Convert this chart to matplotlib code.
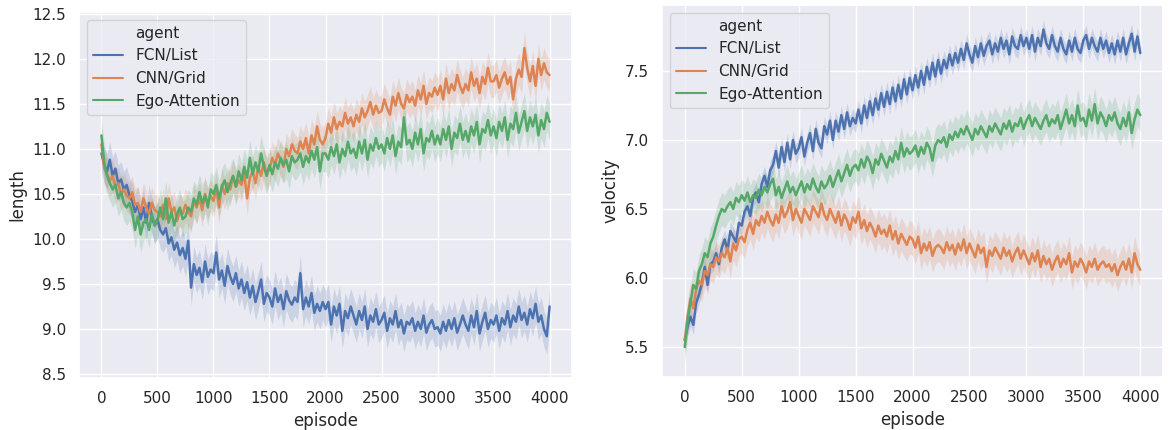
import numpy as np
import matplotlib
matplotlib.use("Agg")
import matplotlib.pyplot as plt
import seaborn as sns
from matplotlib.lines import Line2D

sns.set_theme(style="darkgrid")
plt.rcParams['font.family'] = ['DejaVu Sans']

agents = ["FCN/List", "CNN/Grid", "Ego-Attention"]
episode_step = 25

length_fcn = [
    10.95, 10.82, 10.75, 10.88, 10.70, 10.78, 10.62, 10.66, 10.55, 10.60,
    10.48, 10.42, 10.30, 10.38, 10.22, 10.35, 10.18, 10.40, 10.25, 10.15,
    10.22, 10.10, 10.05, 10.12, 9.95, 10.02, 9.88, 9.96, 9.82, 9.90,
    9.78, 9.98, 9.46, 9.72, 9.60, 9.68, 9.52, 9.75, 9.58, 9.66,
    9.62, 9.85, 9.55, 9.65, 9.48, 9.70, 9.58, 9.50, 9.62, 9.45,
    9.55, 9.40, 9.52, 9.35, 9.48, 9.30, 9.42, 9.55, 9.28, 9.40,
    9.35, 9.25, 9.45, 9.30, 9.38, 9.22, 9.42, 9.32, 9.27, 9.35,
    9.30, 9.62, 9.22, 9.35, 9.25, 9.40, 9.18, 9.28, 9.20, 9.30,
    9.22, 9.30, 9.05, 9.25, 9.15, 9.28, 8.98, 9.20, 9.12, 9.25,
    9.15, 9.05, 9.20, 9.10, 9.25, 9.00, 9.15, 9.08, 9.22, 9.05,
    9.10, 9.18, 8.98, 9.12, 9.05, 9.20, 9.02, 9.10, 8.95, 9.08,
    9.05, 9.12, 8.98, 9.08, 9.00, 9.15, 8.96, 9.05, 9.10, 9.00,
    9.02, 8.95, 9.08, 8.98, 9.10, 9.00, 9.12, 8.96, 9.05, 9.15,
    9.05, 8.98, 9.15, 9.02, 9.20, 8.95, 9.08, 9.18, 9.00, 9.10,
    9.05, 9.15, 8.98, 9.12, 9.05, 9.20, 9.02, 9.15, 9.08, 9.25,
    9.10, 9.18, 9.05, 9.22, 9.12, 9.28, 9.08, 9.15, 9.00, 8.92,
    9.25,
]
length_cnn = [
    11.05, 10.78, 10.72, 10.65, 10.70, 10.58, 10.62, 10.50, 10.55, 10.48,
    10.45, 10.52, 10.38, 10.40, 10.30, 10.45, 10.35, 10.28, 10.40, 10.32,
    10.30, 10.25, 10.38, 10.22, 10.45, 10.30, 10.35, 10.20, 10.32, 10.28,
    10.38, 10.30, 10.25, 10.42, 10.35, 10.45, 10.32, 10.50, 10.40, 10.48,
    10.42, 10.55, 10.35, 10.60, 10.50, 10.62, 10.55, 10.70, 10.58, 10.65,
    10.60, 10.72, 10.45, 10.68, 10.75, 10.62, 10.80, 10.70, 10.85, 10.72,
    10.78, 10.90, 10.82, 10.95, 10.88, 10.80, 11.00, 10.92, 11.05, 10.98,
    10.95, 11.08, 11.00, 11.12, 10.95, 11.15, 11.05, 11.25, 11.10, 11.05,
    11.12, 11.28, 11.18, 11.35, 11.22, 11.30, 11.25, 11.40, 11.28, 11.35,
    11.25, 11.38, 11.30, 11.45, 11.35, 11.42, 11.52, 11.38, 11.48, 11.40,
    11.42, 11.55, 11.45, 11.38, 11.58, 11.48, 11.62, 11.50, 11.45, 11.60,
    11.52, 11.58, 11.48, 11.65, 11.55, 11.70, 11.50, 11.62, 11.58, 11.68,
    11.60, 11.70, 11.55, 11.78, 11.62, 11.72, 11.65, 11.82, 11.70, 11.62,
    11.72, 11.65, 11.85, 11.70, 11.78, 11.62, 11.80, 11.72, 11.90, 11.75,
    11.75, 11.82, 11.68, 11.78, 11.85, 11.72, 11.80, 11.55, 11.78, 11.88,
    11.80, 12.12, 11.90, 11.75, 11.92, 11.70, 12.00, 11.82, 11.95, 11.85,
    11.82,
]
length_ego = [
    11.15, 10.85, 10.70, 10.62, 10.55, 10.60, 10.45, 10.52, 10.40, 10.35,
    10.40, 10.30, 10.10, 10.25, 10.05, 10.18, 10.22, 10.10, 10.28, 10.15,
    10.20, 10.35, 10.22, 10.45, 10.18, 10.30, 10.15, 10.28, 10.35, 10.22,
    10.25, 10.35, 10.30, 10.45, 10.38, 10.52, 10.40, 10.48, 10.35, 10.55,
    10.50, 10.60, 10.45, 10.58, 10.65, 10.52, 10.62, 10.70, 10.58, 10.75,
    10.65, 10.80, 10.68, 10.90, 10.72, 10.85, 10.75, 10.95, 10.80, 10.70,
    10.82, 10.72, 10.85, 10.78, 10.90, 10.82, 10.88, 10.75, 10.92, 10.85,
    10.88, 10.95, 10.80, 10.92, 10.85, 10.98, 10.88, 11.02, 10.75, 10.95,
    10.95, 10.88, 11.02, 10.92, 11.05, 10.85, 11.00, 10.92, 11.08, 10.95,
    11.00, 10.90, 11.08, 10.95, 11.10, 10.88, 11.05, 10.98, 11.12, 11.00,
    11.05, 10.95, 11.12, 11.00, 11.15, 10.92, 11.08, 11.02, 11.35, 11.05,
    11.10, 11.00, 11.18, 11.05, 11.22, 10.95, 11.12, 11.08, 11.20, 11.05,
    11.15, 11.05, 11.22, 11.10, 11.25, 11.00, 11.18, 11.12, 11.28, 11.10,
    11.20, 11.08, 11.25, 11.15, 11.30, 11.05, 11.22, 11.18, 11.32, 11.15,
    11.25, 11.12, 11.30, 11.20, 11.35, 11.10, 11.28, 11.22, 11.40, 11.18,
    11.30, 11.42, 11.20, 11.35, 11.25, 11.38, 11.15, 11.32, 11.22, 11.40,
    11.30,
]

velocity_fcn = [
    5.55, 5.65, 5.72, 5.66, 5.82, 5.88, 5.96, 6.08, 5.95, 6.10,
    6.12, 6.18, 6.10, 6.22, 6.28, 6.20, 6.34, 6.30, 6.26, 6.40,
    6.38, 6.48, 6.52, 6.45, 6.58, 6.62, 6.55, 6.68, 6.74, 6.66,
    6.78, 6.82, 6.92, 6.80, 6.95, 6.84, 6.98, 6.86, 7.00, 6.90,
    6.94, 7.02, 6.88, 6.98, 7.05, 6.92, 7.08, 6.98, 6.94, 7.10,
    7.04, 7.14, 7.00, 7.14, 7.06, 7.18, 7.08, 7.20, 7.10, 7.16,
    7.12, 7.22, 7.12, 7.25, 7.16, 7.28, 7.18, 7.30, 7.22, 7.34,
    7.24, 7.35, 7.26, 7.38, 7.28, 7.40, 7.30, 7.44, 7.33, 7.45,
    7.36, 7.47, 7.38, 7.50, 7.40, 7.53, 7.44, 7.56, 7.46, 7.58,
    7.48, 7.58, 7.52, 7.62, 7.54, 7.63, 7.56, 7.66, 7.58, 7.70,
    7.62, 7.56, 7.68, 7.60, 7.70, 7.61, 7.68, 7.72, 7.62, 7.70,
    7.64, 7.74, 7.66, 7.72, 7.62, 7.75, 7.68, 7.66, 7.76, 7.68,
    7.74, 7.66, 7.76, 7.64, 7.74, 7.68, 7.80, 7.70, 7.66, 7.76,
    7.68, 7.64, 7.74, 7.66, 7.62, 7.72, 7.64, 7.74, 7.66, 7.63,
    7.72, 7.76, 7.66, 7.74, 7.68, 7.64, 7.74, 7.66, 7.72, 7.63,
    7.70, 7.62, 7.72, 7.64, 7.74, 7.62, 7.70, 7.77, 7.64, 7.75,
    7.63,
]
velocity_cnn = [
    5.55, 5.72, 5.85, 5.78, 5.92, 5.98, 5.95, 6.05, 6.02, 6.10,
    6.08, 6.15, 6.12, 6.18, 6.15, 6.22, 6.12, 6.25, 6.20, 6.28,
    6.30, 6.26, 6.35, 6.40, 6.32, 6.42, 6.38, 6.45, 6.40, 6.48,
    6.42, 6.38, 6.46, 6.40, 6.52, 6.44, 6.48, 6.55, 6.42, 6.50,
    6.45, 6.40, 6.50, 6.46, 6.42, 6.52, 6.48, 6.44, 6.54, 6.46,
    6.42, 6.50, 6.45, 6.40, 6.48, 6.38, 6.46, 6.42, 6.35, 6.44,
    6.40, 6.48, 6.36, 6.42, 6.34, 6.40, 6.36, 6.30, 6.38, 6.32,
    6.35, 6.30, 6.38, 6.28, 6.34, 6.25, 6.32, 6.28, 6.24, 6.30,
    6.28, 6.22, 6.30, 6.18, 6.25, 6.20, 6.26, 6.16, 6.22, 6.24,
    6.22, 6.18, 6.26, 6.20, 6.24, 6.17, 6.25, 6.20, 6.28, 6.18,
    6.25, 6.20, 6.15, 6.24, 6.18, 6.22, 6.08, 6.20, 6.16, 6.22,
    6.18, 6.14, 6.22, 6.16, 6.20, 6.12, 6.18, 6.22, 6.14, 6.20,
    6.15, 6.10, 6.18, 6.12, 6.20, 6.08, 6.16, 6.10, 6.14, 6.06,
    6.12, 6.16, 6.08, 6.14, 6.10, 6.18, 6.04, 6.12, 6.08, 6.14,
    6.10, 6.04, 6.12, 6.08, 6.14, 6.06, 6.10, 6.12, 6.08, 6.10,
    6.05, 6.10, 6.02, 6.08, 6.12, 6.06, 6.14, 6.04, 6.18, 6.10,
    6.06,
]
velocity_ego = [
    5.50, 5.70, 5.82, 5.95, 5.92, 6.05, 6.10, 6.18, 6.15, 6.25,
    6.30, 6.38, 6.45, 6.50, 6.48, 6.52, 6.55, 6.50, 6.58, 6.55,
    6.60, 6.56, 6.62, 6.55, 6.60, 6.58, 6.64, 6.60, 6.66, 6.62,
    6.68, 6.72, 6.60, 6.66, 6.58, 6.64, 6.70, 6.62, 6.66, 6.60,
    6.65, 6.70, 6.62, 6.68, 6.64, 6.72, 6.66, 6.62, 6.70, 6.65,
    6.68, 6.74, 6.66, 6.72, 6.78, 6.70, 6.76, 6.82, 6.74, 6.80,
    6.82, 6.78, 6.86, 6.80, 6.88, 6.84, 6.76, 6.86, 6.82, 6.90,
    6.85, 6.80, 6.88, 6.84, 6.92, 6.86, 6.98, 6.88, 6.94, 6.90,
    6.92, 6.96, 6.88, 6.95, 6.90, 6.98, 6.94, 6.85, 6.96, 7.00,
    6.98, 7.02, 6.95, 7.04, 7.00, 7.06, 7.02, 7.08, 7.04, 7.10,
    7.05, 7.00, 7.08, 7.04, 7.10, 7.06, 7.02, 7.10, 7.06, 7.12,
    7.08, 7.04, 7.12, 7.08, 7.14, 7.06, 7.12, 7.10, 7.16, 7.08,
    7.14, 7.18, 7.10, 7.16, 7.12, 7.08, 7.14, 7.18, 7.10, 7.15,
    7.12, 7.18, 7.08, 7.15, 7.22, 7.12, 7.18, 7.10, 7.25, 7.14,
    7.16, 7.10, 7.22, 7.14, 7.26, 7.12, 7.20, 7.16, 7.10, 7.18,
    7.14, 7.20, 7.12, 7.08, 7.16, 7.10, 7.20, 7.05, 7.15, 7.22,
    7.18,
]

length_band = [0.2, 0.18, 0.2]
velocity_band = [0.07, 0.12, 0.12]

colors = sns.color_palette("deep")[:3]

fig = plt.figure(figsize=(11.69, 4.30), dpi=100)
ax1 = fig.add_axes([0.0676, 0.1209, 0.4217, 0.8512])
ax2 = fig.add_axes([0.5663, 0.1233, 0.4286, 0.8651])


def draw(ax, series, bands, ylabel, ylim):
    for name, vals, hw, c in zip(agents, series, bands, colors):
        y = np.asarray(vals)
        x = np.arange(len(y)) * episode_step
        ax.fill_between(x, y - hw, y + hw, color=c, alpha=0.2, linewidth=0)
        ax.plot(x, y, color=c, lw=1.8, label=name)
    ax.set_xlabel("episode", fontsize=12)
    ax.set_ylabel(ylabel, fontsize=12)
    ax.set_xticks(np.arange(0, 4001, 500))
    ax.set_xlim(-200, 4200)
    ax.set_ylim(*ylim)
    ax.tick_params(labelsize=11)
    handles = [Line2D([], [], color="none")] + [Line2D([], [], color=c, lw=1.5) for c in colors]
    labels = ["agent"] + agents
    ax.legend(handles, labels, loc="upper left", fontsize=11, handlelength=2.0)


draw(ax1, [length_fcn, length_cnn, length_ego], length_band, "length", (8.456, 12.52))
ax1.set_yticks(np.arange(8.5, 12.51, 0.5))
draw(ax2, [velocity_fcn, velocity_cnn, velocity_ego], velocity_band, "velocity", (5.283, 7.978))
ax2.set_yticks(np.arange(5.5, 7.51, 0.5))

fig.savefig("out.png", dpi=100)
